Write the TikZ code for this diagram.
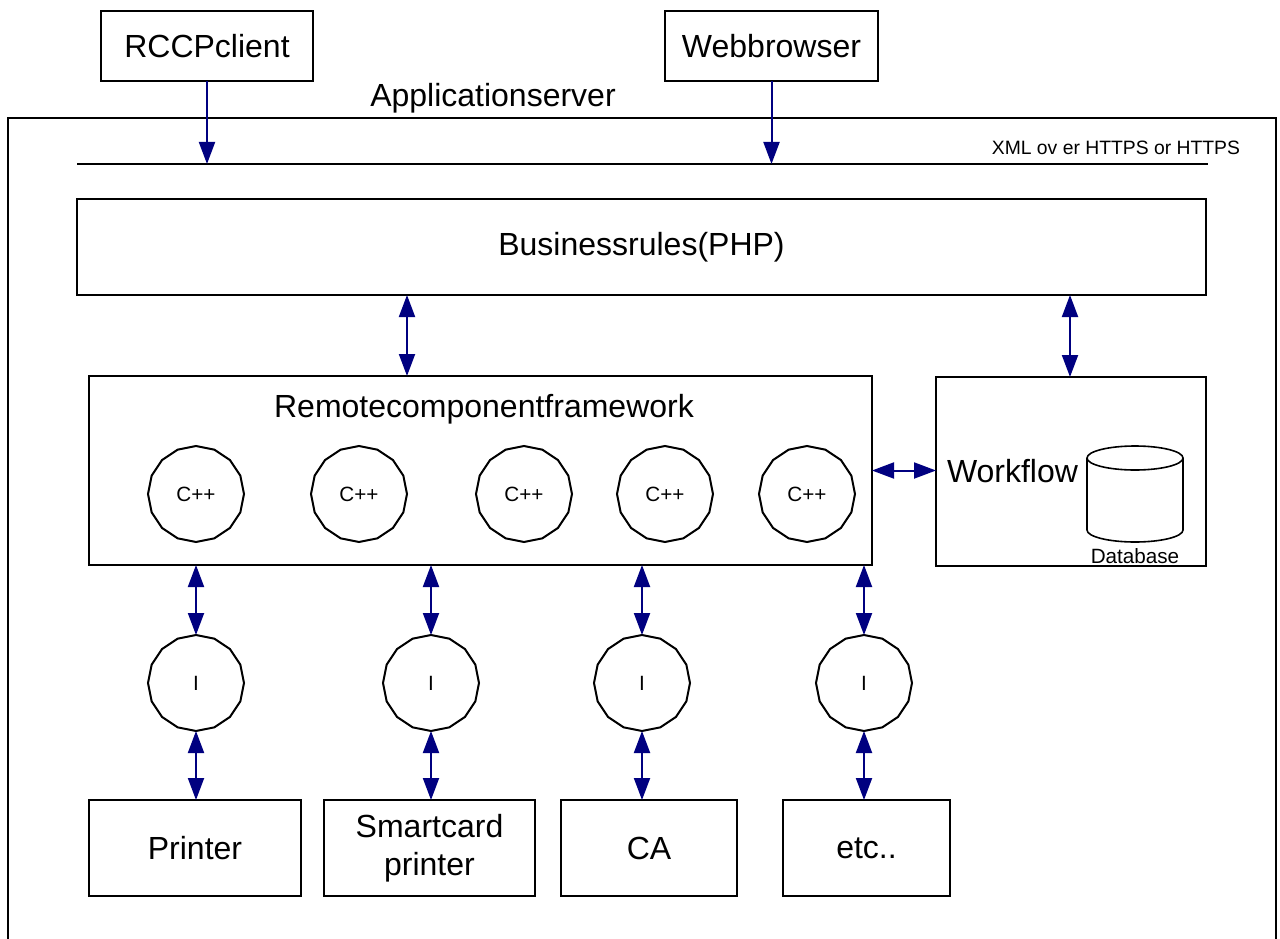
\documentclass[tikz,border=0pt]{standalone}
\usepackage{fontspec}
\setmainfont{Liberation Sans}
\usetikzlibrary{arrows.meta,shapes.geometric}
\definecolor{arrowblue}{RGB}{0,0,128}
\newcommand\mybigfont{\fontsize{24}{28.5}\selectfont}
\newcommand\mysmallfont{\fontsize{15.5}{18}\selectfont}
\newcommand\myxmlfont{\fontsize{14.5}{17}\selectfont}
\begin{document}
\begin{tikzpicture}[x=0.75pt,y=-0.75pt,
  box/.style={draw, line width=1.5pt, rectangle, inner sep=0pt, outer sep=0pt, align=center, font=\mybigfont},
  poly/.style={draw, line width=1.5pt, regular polygon, regular polygon sides=16,
    shape border rotate=11.25, minimum size=72pt, inner sep=0pt, outer sep=0pt, font=\mysmallfont},
  link/.style={draw=arrowblue, line width=1.5pt, -{Triangle[length=16.5pt,width=12pt]}},
  dlink/.style={draw=arrowblue, line width=1.5pt, {Triangle[length=16.5pt,width=12pt]}-{Triangle[length=16.5pt,width=12pt]}},
  lbl/.style={inner sep=0pt, outer sep=0pt}
]
\useasboundingbox (0,0) rectangle (1280,938);

% outer application server frame (open at the bottom)
\draw[line width=1.5pt] (8,950) -- (8,118) -- (1276,118) -- (1276,950);

% clients
\node[box, minimum width=159pt, minimum height=52.5pt] (rccp) at (207,46) {RCCPclient};
\node[box, minimum width=159.75pt, minimum height=52.5pt] (web) at (771.5,46) {Webbrowser};
\node[lbl, font=\mybigfont, anchor=base] (title) at (493,107) {Applicationserver};

% bus line
\coordinate (busL) at (77,164);
\coordinate (busR) at (1208,164);
\draw[line width=1.5pt] (busL) -- (busR);
\node[lbl, font=\myxmlfont, anchor=base east] (xml) at (1240,155) {XML ov er HTTPS or HTTPS};

% business rules
\node[box, minimum width=846.75pt, minimum height=72pt] (biz) at (641.5,247) {Businessrules(PHP)};

% remote component framework
\node[box, minimum width=587.25pt, minimum height=141.75pt] (rcf) at (480.5,470.5) {};
\node[lbl, font=\mybigfont, anchor=base] (rcflabel) at (484,417) {Remotecomponentframework};

% workflow
\node[box, minimum width=202.5pt, minimum height=141.75pt] (wf) at (1071,471.5) {};
\node[lbl, font=\mybigfont, anchor=base west] (wflabel) at (947,482) {Workflow};
\draw[line width=1.2pt] (1135,458) ellipse [x radius=36pt, y radius=9pt];
\draw[line width=1.2pt] (1087,458) -- (1087,530)
  arc[start angle=180, end angle=360, x radius=36pt, y radius=9pt] -- (1183,458);
\node[lbl, font=\mysmallfont, anchor=base] (dblabel) at (1135,563) {Database};

% C++ components
\foreach \x/\n in {196/c1, 359/c2, 524/c3, 665/c4, 807/c5}
  \node[poly] (\n) at (\x,494) {C++};

% interfaces
\foreach \x/\n in {196/i1, 431/i2, 642/i3, 864/i4}
  \node[poly] (\n) at (\x,683) {I};

% devices
\node[box, minimum width=159pt, minimum height=72pt] (printer) at (195,848) {Printer};
\node[box, minimum width=158.25pt, minimum height=72pt] (smart) at (429.5,848) {Smartcard\\printer};
\node[box, minimum width=132pt, minimum height=72pt] (ca) at (649,848) {CA};
\node[box, minimum width=125.25pt, minimum height=72pt] (etc) at (866.5,848) {etc..};

% connectors
\draw[link] (rccp.south) -- (rccp.south |- busL);
\draw[link] (web.south) -- (web.south |- busL);
\coordinate (a1) at (407,0);
\coordinate (a2) at (1070,0);
\draw[dlink] (biz.south -| a1) -- (rcf.north -| a1);
\draw[dlink] (biz.south -| a2) -- (wf.north -| a2);
\draw[dlink] (rcf.east) -- (rcf.east -| wf.west);

\draw[dlink] (rcf.south -| i1.north) -- (i1.north);
\draw[dlink] (rcf.south -| i2.north) -- (i2.north);
\draw[dlink] (rcf.south -| i3.north) -- (i3.north);
\draw[dlink] (rcf.south -| i4.north) -- (i4.north);
\draw[dlink] (i1.south) -- (i1.south |- printer.north);
\draw[dlink] (i2.south) -- (i2.south |- smart.north);
\draw[dlink] (i3.south) -- (i3.south |- ca.north);
\draw[dlink] (i4.south) -- (i4.south |- etc.north);
\end{tikzpicture}
\end{document}
